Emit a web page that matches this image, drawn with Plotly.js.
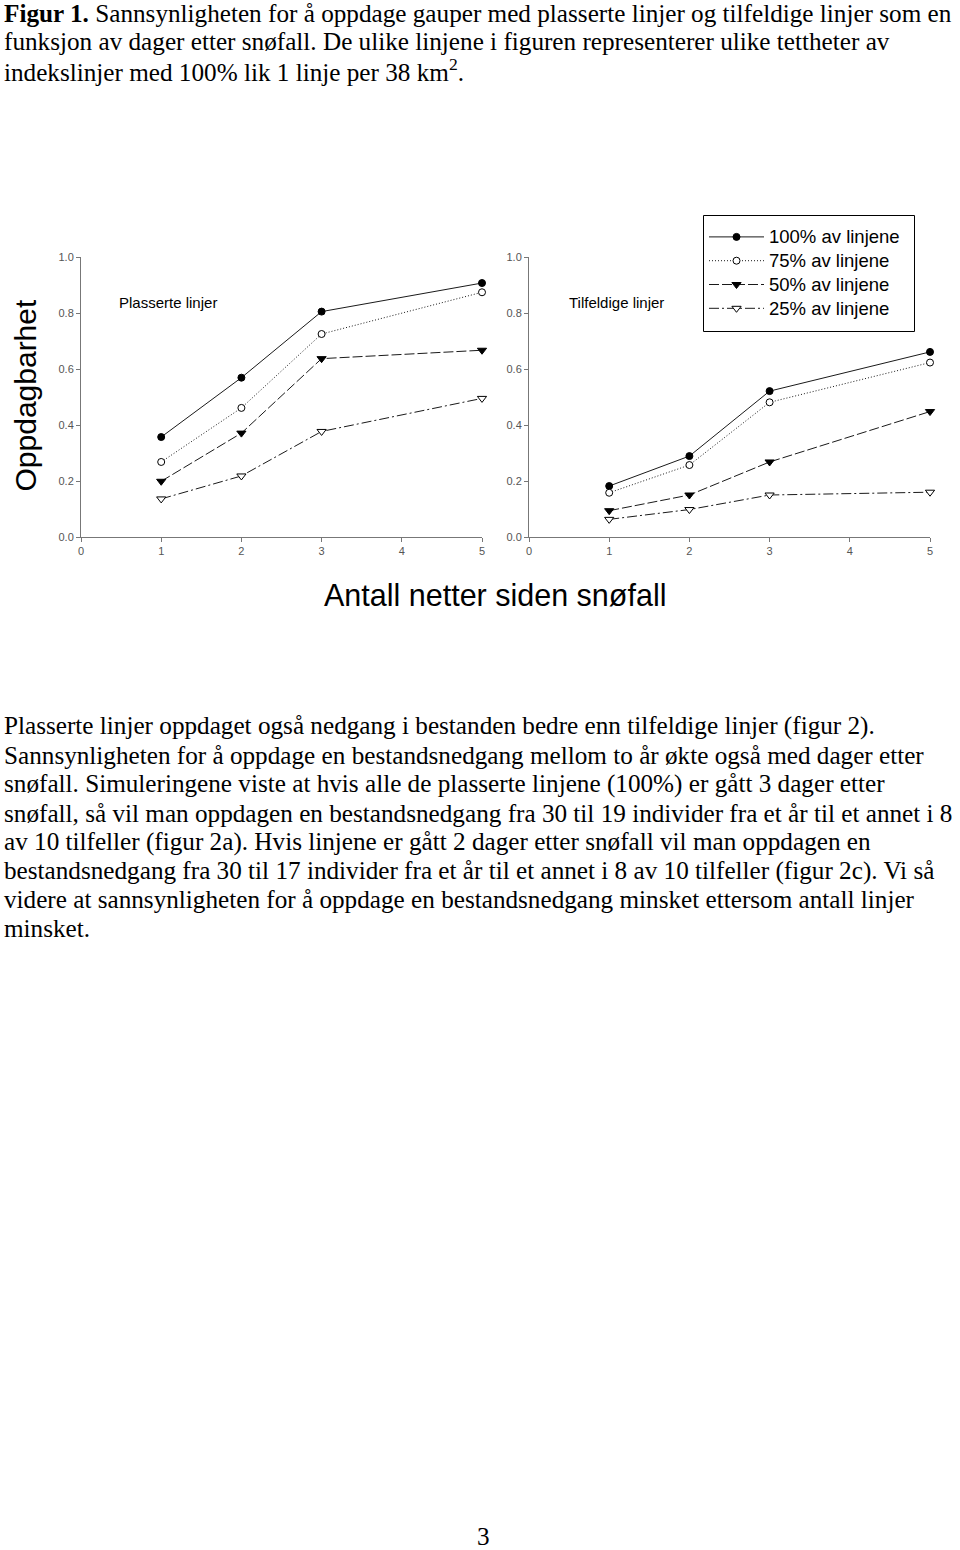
<!DOCTYPE html>
<html>
<head>
<meta charset="utf-8">
<script src="https://cdn.plot.ly/plotly-3.0.1.min.js"></script>
<style>
html, body { margin: 0; padding: 0; background: #ffffff; }
#chart { width: 960px; height: 1550px; }
</style>
</head>
<body>
<div id="chart"></div>
<script>
// ---------- data ----------
const days = [1, 2, 3, 5];
const seriesNames = ['100% av linjene', '75% av linjene', '50% av linjene', '25% av linjene'];
const plassert100 = [0.357, 0.569, 0.805, 0.907];
const plassert75  = [0.268, 0.461, 0.725, 0.874];
const plassert50  = [0.199, 0.371, 0.637, 0.667];
const plassert25  = [0.136, 0.218, 0.377, 0.495];
const tilfeldig100 = [0.182, 0.289, 0.521, 0.661];
const tilfeldig75  = [0.158, 0.257, 0.481, 0.623];
const tilfeldig50  = [0.094, 0.150, 0.268, 0.448];
const tilfeldig25  = [0.063, 0.098, 0.150, 0.160];
const xTickVals = [0, 1, 2, 3, 4, 5];
const yTickVals = [0, 0.2, 0.4, 0.6, 0.8, 1.0];
const panelTitles = ['Plasserte linjer', 'Tilfeldige linjer'];
const yTitle = 'Oppdagbarhet';
const xTitle = 'Antall netter siden snøfall';
const captionLines = [
  '<b>Figur 1.</b> Sannsynligheten for å oppdage gauper med plasserte linjer og tilfeldige linjer som en',
  'funksjon av dager etter snøfall. De ulike linjene i figuren representerer ulike tettheter av',
  'indekslinjer med 100% lik 1 linje per 38 km<sup>2</sup>.'
];
const bodyLines = [
  'Plasserte linjer oppdaget også nedgang i bestanden bedre enn tilfeldige linjer (figur 2).',
  'Sannsynligheten for å oppdage en bestandsnedgang mellom to år økte også med dager etter',
  'snøfall. Simuleringene viste at hvis alle de plasserte linjene (100%) er gått 3 dager etter',
  'snøfall, så vil man oppdagen en bestandsnedgang fra 30 til 19 individer fra et år til et annet i 8',
  'av 10 tilfeller (figur 2a). Hvis linjene er gått 2 dager etter snøfall vil man oppdagen en',
  'bestandsnedgang fra 30 til 17 individer fra et år til et annet i 8 av 10 tilfeller (figur 2c). Vi så',
  'videre at sannsynligheten for å oppdage en bestandsnedgang minsket ettersom antall linjer',
  'minsket.'
];
const pageNumber = '3';

// ---------- styling / layout helpers ----------
const W = 960, H = 1550;
const fx = px => px / W;
const fy = py => 1 - py / H;
const SANS = 'Liberation Sans, Arial, sans-serif';
const SERIF = 'Liberation Serif, Times New Roman, serif';

const seriesStyles = [
  { dash: 'solid',            symbol: 'circle',        fill: '#000000', size: 7 },
  { dash: '1px,2px',          symbol: 'circle',        fill: '#ffffff', size: 7 },
  { dash: '10px,3px',         symbol: 'triangle-down', fill: '#000000', size: 8 },
  { dash: '10px,3px,2px,3px', symbol: 'triangle-down', fill: '#ffffff', size: 8 }
];
const legendTextSize = 18.5;

const panels = [
  { xa: 'x',  ya: 'y',  vals: [plassert100, plassert75, plassert50, plassert25], legend: true },
  { xa: 'x2', ya: 'y2', vals: [tilfeldig100, tilfeldig75, tilfeldig50, tilfeldig25], legend: false }
];

const traces = [];
panels.forEach(p => {
  p.vals.forEach((v, i) => {
    const s = seriesStyles[i];
    traces.push({
      type: 'scatter', mode: 'lines+markers',
      x: days, y: v, xaxis: p.xa, yaxis: p.ya,
      name: '<span style="font-size:' + legendTextSize + 'px">' + seriesNames[i] + '</span>',
      showlegend: p.legend, legendgroup: 'g' + i,
      cliponaxis: false, hoverinfo: 'skip',
      line: { color: '#1a1a1a', width: 1, dash: s.dash },
      marker: { symbol: s.symbol, size: s.size, color: s.fill, line: { color: '#000000', width: 1 } }
    });
  });
});

function axisX(domain, anchor) {
  return {
    domain: domain, range: [0, 5], tickmode: 'array', tickvals: xTickVals, anchor: anchor,
    ticks: 'outside', ticklen: 4, tickcolor: '#777', tickwidth: 1,
    showline: true, linecolor: '#777', linewidth: 1, mirror: false,
    showgrid: false, zeroline: false, fixedrange: true,
    tickfont: { family: SANS, size: 11, color: '#555' }
  };
}
function axisY(domain, anchor) {
  return {
    domain: domain, range: [0, 1], tickmode: 'array', tickvals: yTickVals, tickformat: '.1f',
    ticks: 'outside', ticklen: 4, tickcolor: '#777', tickwidth: 1,
    showline: true, linecolor: '#777', linewidth: 1, mirror: false,
    showgrid: false, zeroline: false, fixedrange: true, anchor: anchor,
    tickfont: { family: SANS, size: 11, color: '#555' }
  };
}

const yDom = [fy(537), fy(257)];
const annotations = [];

// page text (serif), positioned by baseline
const serifSize = 25.2;
const serifCenter = base => fy(base - 0.3375 * serifSize);
const captionBase = [22, 50.5, 79];
captionLines.forEach((t, i) => annotations.push({
  xref: 'paper', yref: 'paper', x: fx(2), y: serifCenter(captionBase[i]),
  xanchor: 'left', yanchor: 'middle', showarrow: false, text: t,
  font: { family: SERIF, size: serifSize, color: '#000' }
}));
bodyLines.forEach((t, i) => annotations.push({
  xref: 'paper', yref: 'paper', x: fx(2), y: serifCenter(735 + i * 28.9),
  xanchor: 'left', yanchor: 'middle', showarrow: false, text: t,
  font: { family: SERIF, size: serifSize, color: '#000' }
}));
annotations.push({
  xref: 'paper', yref: 'paper', x: fx(483), y: serifCenter(1545),
  xanchor: 'center', yanchor: 'middle', showarrow: false, text: pageNumber,
  font: { family: SERIF, size: serifSize, color: '#000' }
});

// panel labels
annotations.push({
  xref: 'paper', yref: 'paper', x: fx(117), y: fy(302), xanchor: 'left', yanchor: 'middle',
  showarrow: false, text: panelTitles[0], font: { family: SANS, size: 15, color: '#000' }
});
annotations.push({
  xref: 'paper', yref: 'paper', x: fx(567), y: fy(302), xanchor: 'left', yanchor: 'middle',
  showarrow: false, text: panelTitles[1], font: { family: SANS, size: 15, color: '#000' }
});
// axis titles
annotations.push({
  xref: 'paper', yref: 'paper', x: fx(495), y: fy(595), xanchor: 'center', yanchor: 'middle',
  showarrow: false, text: xTitle, font: { family: SANS, size: 30.5, color: '#000' }
});
annotations.push({
  xref: 'paper', yref: 'paper', x: fx(25), y: fy(395.5), xanchor: 'center', yanchor: 'middle',
  showarrow: false, text: yTitle, textangle: -90, font: { family: SANS, size: 30, color: '#000' }
});

// legend frame
const shapes = [{
  type: 'rect', xref: 'paper', yref: 'paper',
  x0: fx(703.5), x1: fx(914.5), y0: fy(331.5), y1: fy(215.5),
  line: { color: '#000', width: 1 }, fillcolor: 'rgba(0,0,0,0)'
}];

const layout = {
  width: W, height: H,
  margin: { l: 0, r: 0, t: 0, b: 0, pad: 0 },
  paper_bgcolor: '#ffffff', plot_bgcolor: '#ffffff',
  showlegend: true,
  legend: {
    x: fx(704), y: fy(220), xanchor: 'left', yanchor: 'top',
    borderwidth: 0, bgcolor: 'rgba(0,0,0,0)',
    font: { family: SANS, size: 16, color: '#000' },
    itemwidth: 55, traceorder: 'normal'
  },
  xaxis: axisX([fx(81), fx(482)], 'y'),
  yaxis: axisY(yDom, 'x'),
  xaxis2: axisX([fx(529), fx(930)], 'y2'),
  yaxis2: axisY(yDom, 'x2'),
  shapes: shapes,
  annotations: annotations
};

Plotly.newPlot('chart', traces, layout, { staticPlot: true, displayModeBar: false });
</script>
</body>
</html>
